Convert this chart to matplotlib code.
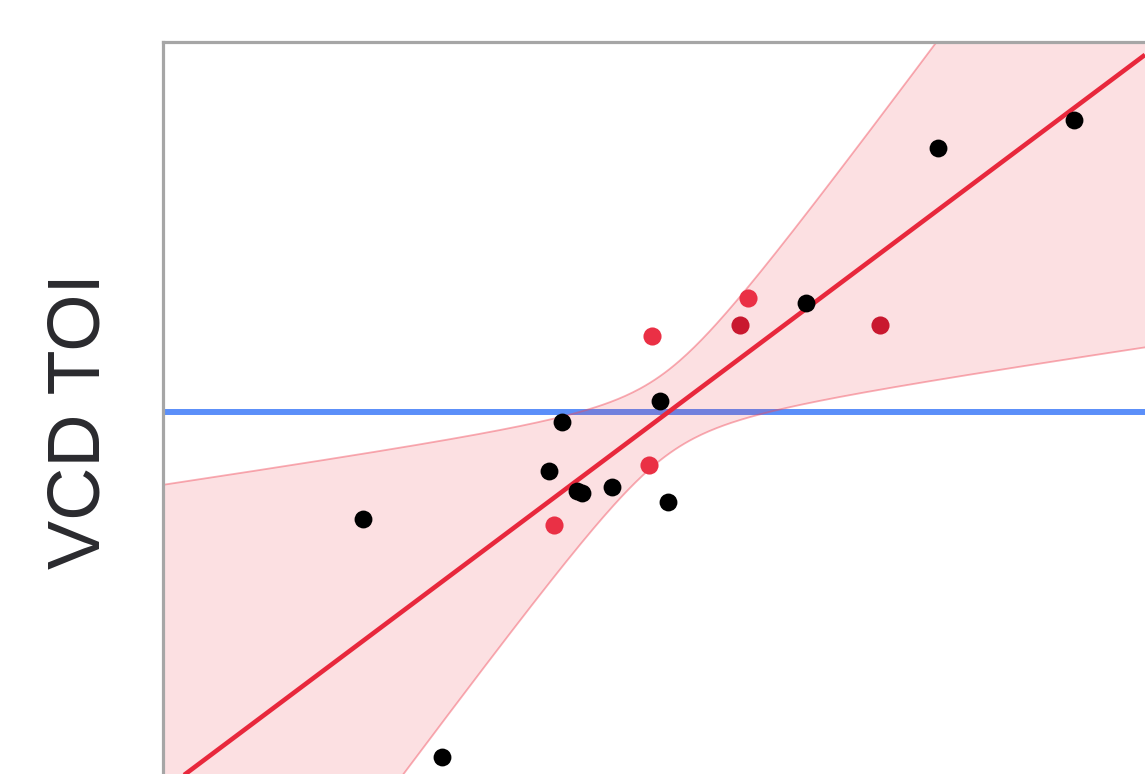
import numpy as np
import matplotlib
matplotlib.use("Agg")
import matplotlib.pyplot as plt

# --- data (axis units: x 0-100, y 0-100 over visible area) ---
black_x = [20.45, 28.48, 39.37, 40.69, 42.22, 42.73, 45.78, 50.66, 51.48, 65.51, 78.94, 92.78]
black_y = [34.84, 2.32, 41.39, 48.09, 38.66, 38.39, 39.21, 50.96, 37.16, 64.34, 85.52, 89.34]
red_x = [49.85, 59.61, 39.88, 49.54]
red_y = [59.84, 65.03, 34.02, 42.21]
darkred_x = [58.80, 73.04]
darkred_y = [61.34, 61.34]
ref_level = 49.45          # horizontal reference line
fit_slope = 1.006
fit_intercept = -2.35
ci_center_x = 51.17
ci_se0 = 5.74              # half-width of band at centre
ci_se1 = 0.81              # growth of half-width per unit x
y_label = "VCD TOI"

W, H = 1145, 774
fig = plt.figure(figsize=(W / 100, H / 100), dpi=100)
ax = fig.add_axes([162.5 / W, 0, 1 - 162.5 / W, (H - 42) / H])
ax.set_xlim(0, 100)
ax.set_ylim(0, 100)

red = "#e8283c"
ax.axhline(ref_level, color="#5b8ff9", lw=4.3, zorder=1)

xs = np.linspace(0, 100, 400)
yfit = fit_slope * xs + fit_intercept
hw = np.sqrt(ci_se0 ** 2 + (ci_se1 * (xs - ci_center_x)) ** 2)
ax.fill_between(xs, yfit - hw, yfit + hw, color="#f0303f", alpha=0.15, lw=0, zorder=2)
ax.plot(xs, yfit + hw, color="#f04a5a", alpha=0.45, lw=1.3, zorder=2)
ax.plot(xs, yfit - hw, color="#f04a5a", alpha=0.45, lw=1.3, zorder=2)
ax.plot(xs, yfit, color=red, lw=3.3, zorder=3, solid_capstyle="butt")

ax.scatter(black_x, black_y, s=165, color="black", lw=0, zorder=4)
ax.scatter(red_x, red_y, s=170, color="#ea3045", lw=0, zorder=4)
ax.scatter(darkred_x, darkred_y, s=170, color="#c9182f", lw=0, zorder=4)

for side in ("right", "bottom"):
    ax.spines[side].set_visible(False)
for side in ("left", "top"):
    ax.spines[side].set_color("#a6a6a6")
    ax.spines[side].set_linewidth(2.3)
ax.set_xticks([])
ax.set_yticks([])

fig.text(80 / W, 1 - 421 / H, y_label, rotation=90, ha="center", va="center",
         fontsize=53, color="#2a2a2e", family=["Liberation Sans", "DejaVu Sans"])

fig.savefig("out.png", dpi=100)
